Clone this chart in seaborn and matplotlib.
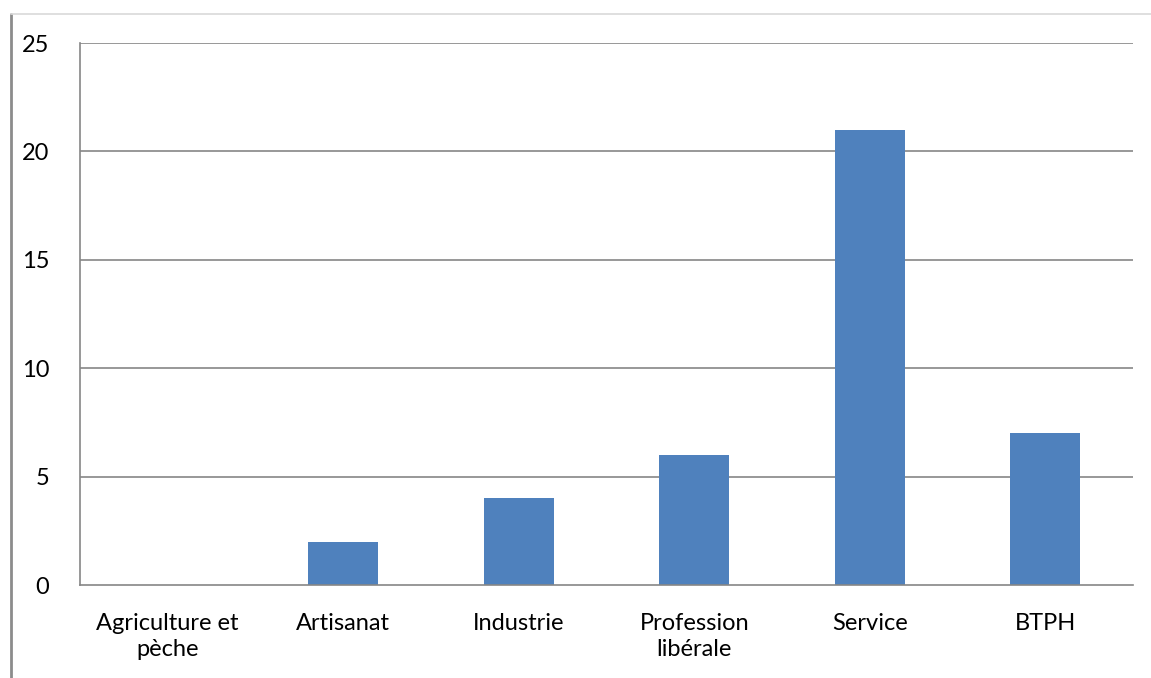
import matplotlib
matplotlib.use("Agg")
import matplotlib.pyplot as plt
from matplotlib.lines import Line2D
import seaborn as sns
import pandas as pd

categories = ["Agriculture et\npèche", "Artisanat", "Industrie", "Profession\nlibérale", "Service", "BTPH"]
values = [0, 2, 4, 6, 21, 7]
yticks = [0, 5, 10, 15, 20, 25]

sns.set_style("white")
plt.rcParams["font.family"] = ["Lato", "DejaVu Sans"]

df = pd.DataFrame({"secteur": categories, "nombre": values})

fig = plt.figure(figsize=(11.51, 6.78), dpi=100)
ax = fig.add_axes([80 / 1151, 1 - 585 / 678, (1133 - 80) / 1151, (585 - 43) / 678])

grid_col = "#868686"
sns.barplot(data=df, x="secteur", y="nombre", color="#4F81BD", width=0.4,
            saturation=1, linewidth=0, ax=ax, zorder=3)

ax.set_xlim(-0.5, len(categories) - 0.5)
ax.set_ylim(0, 25)
ax.set_yticks(yticks)
ax.set_yticklabels([str(v) for v in yticks])
ax.set_xlabel("")
ax.set_ylabel("")

for v in yticks[1:]:
    ax.axhline(v, color=grid_col, lw=1.2, zorder=1)

for side in ("top", "right"):
    ax.spines[side].set_visible(False)
for side in ("left", "bottom"):
    ax.spines[side].set_color(grid_col)
    ax.spines[side].set_linewidth(1.2)
    ax.spines[side].set_zorder(4)

ax.set_xticks([i - 0.5 for i in range(len(categories) + 1)], minor=True)
ax.tick_params(axis="x", which="major", length=0, pad=20, labelsize=17, colors="black")
ax.tick_params(axis="x", which="minor", length=9, width=1.2, color=grid_col, direction="out")
ax.tick_params(axis="y", length=8, width=1.2, color=grid_col, direction="out", pad=14,
               labelsize=17)
for lab in ax.get_yticklabels():
    lab.set_color("black")
for lab in ax.get_xticklabels():
    lab.set_linespacing(1.3)

# outer chart frame
fig.add_artist(Line2D([11 / 1151, 11 / 1151], [0, 1 - 14 / 678], color="#8c8c8c", lw=2,
                      transform=fig.transFigure))
fig.add_artist(Line2D([11 / 1151, 1], [1 - 14 / 678, 1 - 14 / 678], color="#d9d9d9", lw=1.2,
                      transform=fig.transFigure))

fig.savefig("out.png", dpi=100)
